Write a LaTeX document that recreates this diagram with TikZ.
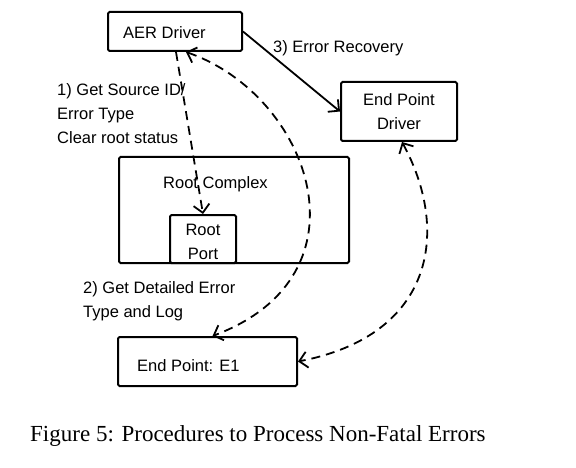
\documentclass[tikz,border=0pt]{standalone}
\usepackage{fontspec}
\setmainfont{Liberation Sans}
\newfontfamily\capfont{Liberation Serif}
\usetikzlibrary{arrows.meta}

\begin{document}
\begin{tikzpicture}[x=1pt,y=1pt,yscale=-1,
  box/.style={draw,line width=2pt,rounded corners=1.5pt,inner sep=0pt},
  txt/.style={inner sep=0pt,font=\fontsize{16.5}{24}\selectfont},
  link/.style={line width=1.8pt,>={Straight Barb[length=8pt,width=16pt]}},
  dashlink/.style={link,dash pattern=on 9pt off 6pt}]
\useasboundingbox (0,0) rectangle (576,468);

%Shape: Rectangle
\node[box,minimum width=134,minimum height=39] (aer) at (175,31.5) {};
%Shape: Rectangle
\node[box,txt,minimum width=116,minimum height=59,align=center] (epd) at (399,111.5) {End Point\\Driver};
%Shape: Rectangle
\node[box,minimum width=230,minimum height=106] (rc) at (234,210) {};
%Shape: Rectangle
\node[box,minimum width=66,minimum height=48,fill=white] (port) at (203,239) {};
%Shape: Rectangle
\node[box,minimum width=179,minimum height=49] (e1) at (207.5,361.5) {};

% Text Node
\node[txt,anchor=base west] (aerlbl) at (123,39) {AER Driver};
% Text Node
\node[txt,anchor=base west] (rclbl) at (163,189) {Root Complex};
% Text Node
\node[txt,anchor=base,align=center] (portlbl) at (203,259) {Root\\Port};
% Text Node
\node[txt,anchor=base west] (e1lbl) at (137,371) {End Point: E1};
% Text Node
\node[txt,anchor=base west,align=left] (step1) at (57,144) {1) Get Source ID/\\Error Type\\Clear root status};
% Text Node
\node[txt,anchor=base west,align=left] (step2) at (83,317) {2) Get Detailed Error\\Type and Log};
% Text Node
\node[txt,anchor=base west] (step3) at (273,53) {3) Error Recovery};

%Straight Lines
\draw[link,->] (aer.east) -- (epd.west);
%Straight Lines
\draw[dashlink,->] ([xshift=1pt]aer.south) -- (port.north);
%Curve Lines
\draw[dashlink,<->] ([xshift=11pt]aer.south) .. controls (310,95) and (375,275) .. ([xshift=5pt]e1.north);
%Curve Lines
\draw[dashlink,<->] ([xshift=3pt]epd.south) .. controls (450,230) and (435,335) .. (e1.east);

% Text Node
\node[inner sep=0pt,anchor=base west,font=\capfont\fontsize{23}{28}\selectfont] (cap) at (30,441) {Figure 5: Procedures to Process Non-Fatal Errors};

\end{tikzpicture}
\end{document}
